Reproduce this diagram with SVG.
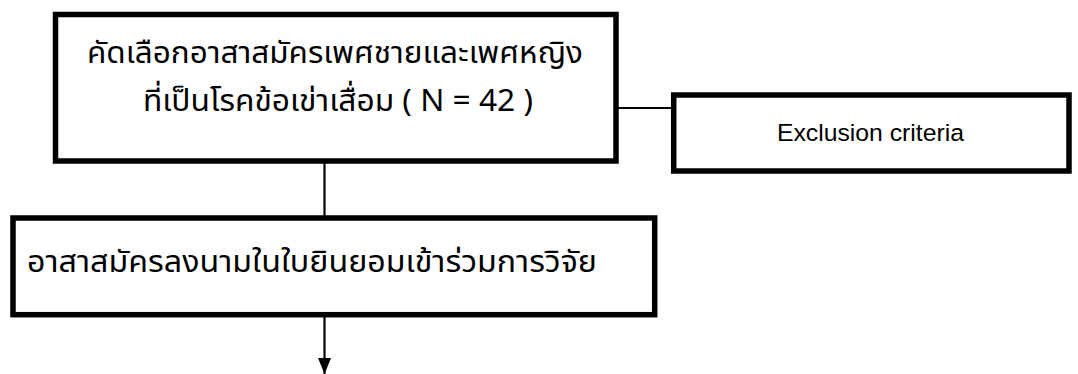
<svg xmlns="http://www.w3.org/2000/svg" width="1078" height="374" viewBox="0 0 1078 374">
  <style>
    .box { fill: #ffffff; stroke: #000000; stroke-width: 5.5; }
    .line { fill: none; stroke: #000000; stroke-width: 2.2; }
    .th { font-family: "Noto Sans Thai", "Noto Sans", "DejaVu Sans", sans-serif; font-size: 30px; fill: #000000; }
    .en { font-family: "Liberation Sans", Arial, sans-serif; font-size: 24.5px; fill: #000000; }
  </style>
  <defs>
    <marker id="arrow" markerUnits="userSpaceOnUse" markerWidth="16" markerHeight="13" refX="16" refY="6.5" orient="auto">
      <path d="M0,0 L16,6.5 L0,13 Z" fill="#000000"/>
    </marker>
  </defs>
  <rect width="1078" height="374" fill="#ffffff"/>
  <g id="connectors">
    <line class="line" x1="324.5" y1="161" x2="324.5" y2="218"/>
    <line class="line" x1="616" y1="108" x2="674" y2="108"/>
    <line class="line" x1="324.5" y1="315" x2="324.5" y2="374" marker-end="url(#arrow)"/>
  </g>
  <g id="node-screening">
    <rect class="box" x="55.5" y="14.5" width="560.5" height="146.5"/>
    <text class="th" x="87" y="63" textLength="496" lengthAdjust="spacingAndGlyphs">คัดเลือกอาสาสมัครเพศชายและเพศหญิง</text>
    <text class="th" x="143" y="111" textLength="390" lengthAdjust="spacingAndGlyphs">ที่เป็นโรคข้อเข่าเสื่อม ( N = 42 )</text>
  </g>
  <g id="node-exclusion">
    <rect class="box" x="673.7" y="95" width="395.3" height="76"/>
    <text class="en" x="777" y="141" textLength="187" lengthAdjust="spacingAndGlyphs">Exclusion criteria</text>
  </g>
  <g id="node-consent">
    <rect class="box" x="13" y="218" width="641.7" height="96.7"/>
    <text class="th" x="27" y="272" textLength="570" lengthAdjust="spacingAndGlyphs">อาสาสมัครลงนามในใบยินยอมเข้าร่วมการวิจัย</text>
  </g>
</svg>
